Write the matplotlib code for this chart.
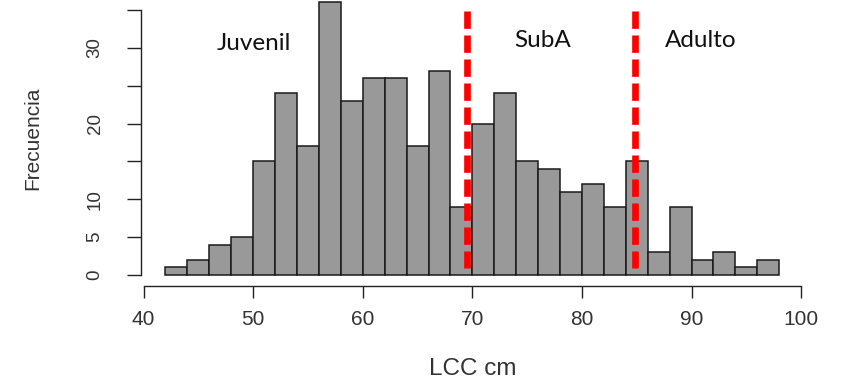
import numpy as np
import matplotlib
matplotlib.use("Agg")
import matplotlib.pyplot as plt

# histogram of LCC (cm), bins of width 2
bin_edges = np.arange(42, 100, 2)
counts = [1, 2, 4, 5, 15, 24, 17, 36, 23, 26, 26, 17, 27, 9,
          20, 24, 15, 14, 11, 12, 9, 15, 3, 9, 2, 3, 1, 2]

# cut points between classes
cuts = [69.5, 84.8]
cut_span = [34.9, 0.9]

# class labels and where they go
class_names = ["Juvenil", "SubA", "Adulto"]
class_x = [50.1, 76.45, 90.8]
class_y = [29.7, 30.15, 30.15]

xticks = [40, 50, 60, 70, 80, 90, 100]
yticks = [0, 5, 10, 15, 20, 25, 30, 35]
ytick_labels = ["0", "5", "10", "", "20", "", "30", ""]

plt.rcParams['font.family'] = ['Liberation Sans', 'DejaVu Sans']

fig = plt.figure(figsize=(8.48, 3.82), dpi=100)
ax = fig.add_axes([0.1662, 0.2516, 0.7816, 0.7706])

ax.bar(bin_edges[:-1], counts, width=2, align='edge',
       color='#999999', edgecolor='#1a1a1a', linewidth=1.1)

for c in cuts:
    ax.plot([c, c], cut_span, color='#ff0000', linewidth=4.8,
            dashes=(2.6, 1.0), solid_capstyle='butt', dash_capstyle='butt')

for name, x, y in zip(class_names, class_x, class_y):
    ax.text(x, y, name, ha='center', va='baseline', fontsize=17.5,
            family=['Lato', 'DejaVu Sans'], color='#111111')

ax.set_xlim(39.76, 100.24)
ax.set_ylim(-1.44, 37.44)

for s in ['top', 'right']:
    ax.spines[s].set_visible(False)
ax.spines['left'].set_bounds(0, 35)
ax.spines['bottom'].set_bounds(40, 100)
for s in ['left', 'bottom']:
    ax.spines[s].set_color('#222222')
    ax.spines[s].set_linewidth(1.0)

ax.set_xticks(xticks)
ax.set_yticks(yticks)
ax.set_yticklabels(ytick_labels, rotation=90, va='center')
ax.tick_params(axis='x', direction='out', length=8.6, width=1.0,
               color='#222222', labelsize=15, labelcolor='#333333', pad=9)
ax.tick_params(axis='y', direction='out', length=9.9, width=1.0,
               color='#222222', labelsize=13.5, labelcolor='#333333', pad=17)

ax.set_xlabel("LCC cm", fontsize=17.5, color='#333333')
ax.set_ylabel("Frecuencia", fontsize=15, color='#333333')
ax.xaxis.set_label_coords(0.5, -0.2463)
ax.yaxis.set_label_coords(-0.1483, 0.5)

fig.savefig("out.png", dpi=100)
